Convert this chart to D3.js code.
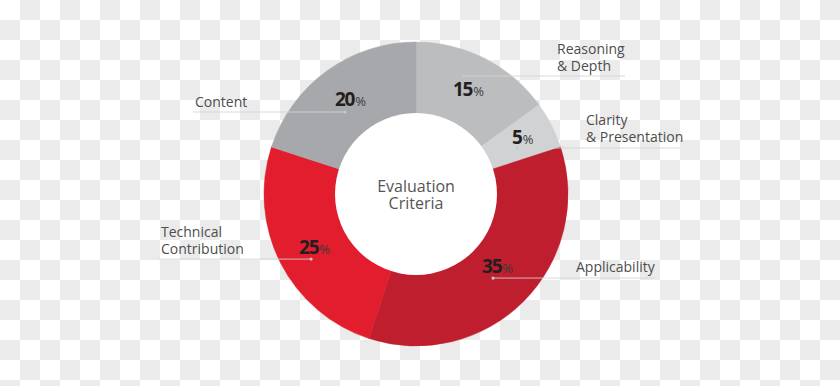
<!DOCTYPE html>
<html>
<head>
<meta charset="utf-8">
<script src="https://cdn.jsdelivr.net/npm/d3@7"></script>
<style>
  html, body { margin: 0; padding: 0; background: #fff; }
  svg { display: block; }
</style>
</head>
<body>
<svg id="chart" width="840" height="386"></svg>
<script>
// ---- data ----
const categories = ["Reasoning & Depth", "Clarity & Presentation", "Applicability", "Technical Contribution", "Content"];
const values = [15, 5, 35, 25, 20];
const labelLines = [["Reasoning", "& Depth"], ["Clarity", "& Presentation"], ["Applicability"], ["Technical", "Contribution"], ["Content"]];
const colors = ["#bcbdbf", "#d1d2d4", "#be1e2d", "#e21d2e", "#a7a8ab"];
const centerTitle = ["Evaluation", "Criteria"];

// ---- layout (positions only) ----
const W = 840, H = 386;
const cx = 416, cy = 194, outerR = 152, innerR = 81;
// anchor dot in polar coords (deg clockwise from top, radius), leader end x, label x, label first baseline, number offsets
const layout = [
  { ang: 21.7, r: 127, lineEnd: 625, textX: 557, textY: 54, numDx: -10, numDy: 20 },
  { ang: 65.5, r: 111, lineEnd: 680, textX: 586, textY: 125, numDx: -5, numDy: -4 },
  { ang: 137.5, r: 114, lineEnd: 655, textX: 576, textY: 272, numDx: -11, numDy: -5 },
  { ang: 238.2, r: 123.5, lineEnd: 159, textX: 161, textY: 237, numDx: -12, numDy: -5 },
  { ang: 319.1, r: 108.5, lineEnd: 193, textX: 195, textY: 107, numDx: -10, numDy: -6 }
];

const svg = d3.select("#chart");

// checkerboard background
const defs = svg.append("defs");
const pat = defs.append("pattern").attr("id", "checker")
  .attr("width", 40).attr("height", 40).attr("patternUnits", "userSpaceOnUse");
pat.append("rect").attr("width", 40).attr("height", 40).attr("fill", "#ffffff");
pat.append("rect").attr("x", 20).attr("y", 0).attr("width", 20).attr("height", 20).attr("fill", "#ebebeb");
pat.append("rect").attr("x", 0).attr("y", 20).attr("width", 20).attr("height", 20).attr("fill", "#ebebeb");
svg.append("rect").attr("width", W).attr("height", H).attr("fill", "url(#checker)");

const data = categories.map((c, i) => ({ category: c, value: values[i], color: colors[i], lines: labelLines[i], lay: layout[i] }));

const pie = d3.pie().value(d => d.value).sort(null);
const arc = d3.arc().innerRadius(innerR - 2).outerRadius(outerR);
const arcs = pie(data);

const g = svg.append("g").attr("transform", `translate(${cx},${cy})`);

g.selectAll("path.slice").data(arcs).join("path")
  .attr("class", "slice")
  .attr("d", arc)
  .attr("fill", d => d.data.color)
  .attr("stroke", d => d.data.color)
  .attr("stroke-width", 0.5);

g.append("circle").attr("r", innerR).attr("fill", "#ffffff");

const font = "'Open Sans', 'DejaVu Sans', sans-serif";

// center title
g.append("text")
  .attr("text-anchor", "middle")
  .attr("font-family", font)
  .attr("font-size", 16)
  .attr("fill", "#555555")
  .selectAll("tspan").data(centerTitle).join("tspan")
  .attr("x", 0)
  .attr("y", (d, i) => -2 + i * 17)
  .text(d => d);

// anchor positions
function anchor(d) {
  const a = d.data.lay.ang * Math.PI / 180;
  return [cx + d.data.lay.r * Math.sin(a), cy - d.data.lay.r * Math.cos(a)];
}

const labels = svg.append("g");

arcs.forEach(d => {
  const [ax, ay] = anchor(d);
  const L = d.data.lay;
  // leader line
  labels.append("line")
    .attr("x1", ax).attr("y1", ay)
    .attr("x2", L.lineEnd).attr("y2", ay)
    .attr("stroke", "#d4d4d4")
    .attr("stroke-opacity", 0.85)
    .attr("stroke-width", 1);
  labels.append("circle")
    .attr("cx", ax).attr("cy", ay).attr("r", 1.6)
    .attr("fill", "#c8c8c8");
  // percentage
  const t = labels.append("text")
    .attr("x", ax + L.numDx).attr("y", ay + L.numDy)
    .attr("font-family", font)
    .attr("fill", "#231f20");
  t.append("tspan").attr("font-weight", 700).attr("font-size", 19)
    .attr("letter-spacing", -1.2)
    .text(d.data.value);
  t.append("tspan").attr("font-weight", 400).attr("font-size", 13).attr("dx", 1)
    .attr("fill", "#3a3a3a")
    .text("%");
  // category label
  labels.append("text")
    .attr("font-family", font)
    .attr("font-size", 14)
    .attr("fill", "#4d4d4d")
    .selectAll("tspan").data(d.data.lines).join("tspan")
    .attr("x", L.textX)
    .attr("y", (s, i) => L.textY + i * 17)
    .text(s => s);
});
</script>
</body>
</html>
